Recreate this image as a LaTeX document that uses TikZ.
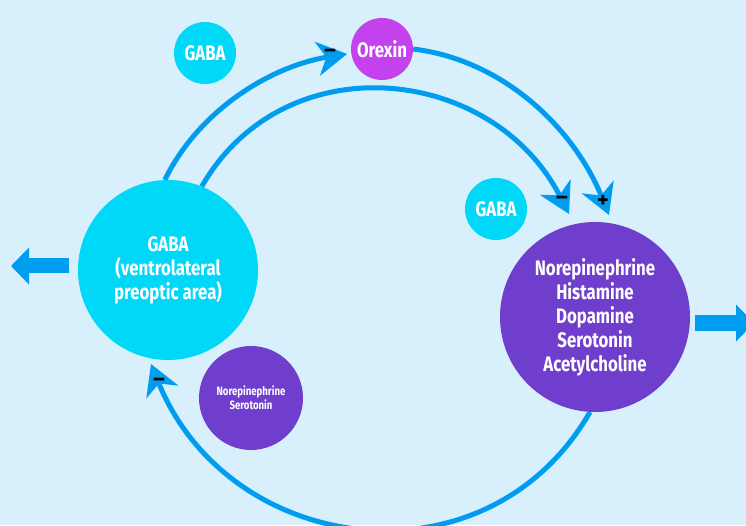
\documentclass[tikz,border=0pt]{standalone}
\usepackage{fontspec}
\usepackage{tikz}
\usetikzlibrary{arrows.meta}
\newfontfamily\labfont{Fira Sans}[FakeStretch=0.8]
\newfontfamily\signfont{Fira Sans}
\definecolor{bgblue}{RGB}{216,240,252}
\definecolor{gabacyan}{RGB}{0,216,248}
\definecolor{orexinpink}{RGB}{196,66,238}
\definecolor{monopurple}{RGB}{112,62,204}
\definecolor{pathblue}{RGB}{0,156,240}

\begin{document}
\begin{tikzpicture}[x=1pt,y=1pt,
  disc/.style={circle,inner sep=0pt,text=white,align=center,
    font=\labfont\bfseries\fontsize{21}{24}\selectfont},
  signal/.style={pathblue,line width=5pt,
    -{Stealth[length=30pt,width=34pt,inset=9pt]}},
  outflow/.style={pathblue,line width=15pt,
    -{Triangle[length=18pt,width=36pt]}},
  sign/.style={inner sep=0pt,font=\signfont\bfseries\fontsize{22}{22}\selectfont}]

\useasboundingbox (0,0) rectangle (746,525);
\fill[bgblue] (0,0) rectangle (746,525);
\clip (0,0) rectangle (746,525);

\node[disc,fill=gabacyan,minimum size=180pt] (vlpo) at (168,255) {GABA\\(ventrolateral\\preoptic area)};
\node[disc,fill=orexinpink,minimum size=62pt] (orexin) at (382,476) {Orexin};
\node[disc,fill=gabacyan,minimum size=62pt] (gabatop) at (205,472) {GABA};
\node[disc,fill=gabacyan,minimum size=62pt] (gabaright) at (496,316) {GABA};
\node[disc,fill=monopurple,minimum size=190pt] (mono) at (595,208) {Norepinephrine\\Histamine\\Dopamine\\Serotonin\\Acetylcholine};
\node[disc,fill=monopurple,minimum size=104pt,font=\labfont\bfseries\fontsize{12}{14}\selectfont] (nesero) at (251,127) {Norepinephrine\\Serotonin};

\coordinate (tipplus) at (609,310);
\coordinate (tipminus) at (569,311);
\coordinate (tipback) at (151,161);
\coordinate (outL) at (11,259);
\coordinate (outR) at (754,202);

\draw[signal,shorten >=4pt] (vlpo.92) to[out=64,in=189,looseness=0.9] (orexin.188);
\draw[signal] (orexin.east) to[out=-7,in=112,looseness=0.92] (tipplus);
\draw[signal] (vlpo.68) to[out=60,in=117,looseness=1.16] (tipminus);
\draw[signal] (mono.-93) to[out=-120,in=-68,looseness=1.2] (tipback);

\draw[outflow] ([xshift=-9pt,yshift=4pt]vlpo.west) -- (outL);
\draw[outflow] ([xshift=5pt,yshift=-6pt]mono.east) -- (outR);

\node[sign] (minusorexin) at (330,472) {–};
\node[sign] (minusmono) at (562,325) {–};
\node[sign] (plusmono) at (603,324) {+};
\node[sign] (minusvlpo) at (159,143) {–};

\end{tikzpicture}
\end{document}
